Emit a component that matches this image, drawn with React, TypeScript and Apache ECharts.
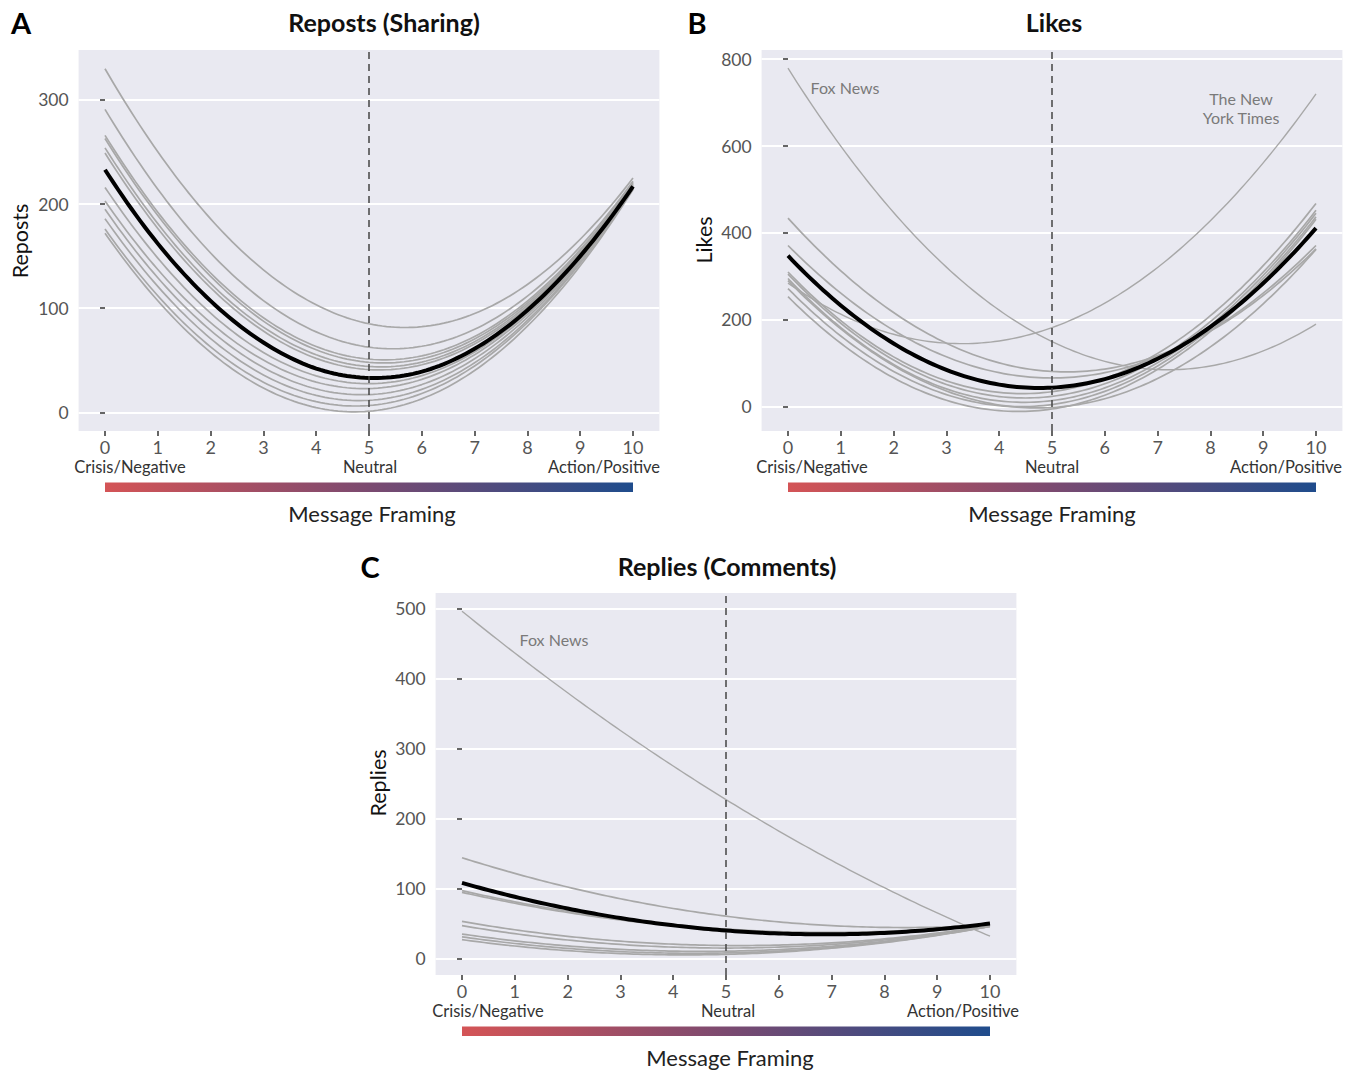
import React, { useEffect, useRef } from "react";
import * as echarts from "echarts";

// Message framing scale (x)
const FRAMING = [0, 1, 2, 3, 4, 5, 6, 7, 8, 9, 10];
const X_TICKS = [0, 1, 2, 3, 4, 5, 6, 7, 8, 9, 10];

// Panel A – Reposts
const REPOSTS_TICKS = [0, 100, 200, 300];
const repostsOverall = [233, 162, 107, 67, 42, 33, 39, 61, 98, 150, 217];
const repostsOutlets = [
  [330, 250.2, 185.8, 136.8, 103.2, 85, 82.2, 94.8, 122.8, 166.2, 225],
  [291, 214.3, 153, 107.3, 77.2, 62.5, 63.4, 79.7, 111.6, 159.1, 222],
  [266, 192.2, 133.8, 90.8, 63.2, 51, 54.2, 72.8, 106.8, 156.2, 221],
  [263, 189, 130.6, 87.6, 60, 48, 51.4, 70.4, 104.8, 154.6, 220],
  [254, 181.2, 123.8, 81.8, 55.2, 44, 48.2, 67.8, 102.8, 153.2, 219],
  [249, 176.6, 119.6, 78, 51.8, 41, 45.6, 65.6, 101, 151.8, 218],
  [216, 148.1, 95.2, 57.5, 35, 27.5, 35.2, 57.9, 95.8, 148.9, 217],
  [203, 137.1, 86.1, 50.1, 29, 22.8, 31.6, 55.3, 93.9, 147.5, 216],
  [195, 129.2, 78.6, 43, 22.4, 17, 26.6, 51.4, 91.2, 146, 216],
  [186, 120.9, 70.8, 35.9, 16.2, 11.5, 22, 47.5, 88.2, 144.1, 215],
  [176, 111.9, 62.8, 28.9, 10.2, 6.5, 18, 44.5, 86.2, 143.1, 215],
  [172, 107.1, 57.5, 23.3, 4.5, 1, 12.9, 40.1, 82.7, 140.7, 214],
];

// Panel B – Likes
const LIKES_TICKS = [0, 200, 400, 600, 800];
const likesOverall = [347.5, 233, 145.5, 84.7, 50.8, 43.8, 63.5, 110.2, 183.6, 284, 411];
const likesFoxNews = [779, 599.7, 447, 321.2, 222.1, 149.8, 104.3, 85.5, 93.6, 128.4, 190];
const likesNYTimes = [284.5, 212.8, 166.6, 146.2, 151.3, 182, 238.4, 320.4, 428, 561.2, 720];
const likesOutlets = [
  [434, 312.7, 216.6, 146, 100.8, 81, 86.6, 117.6, 174, 255.8, 363],
  [371, 261.2, 175.8, 114.8, 78.2, 66, 78.2, 114.8, 175.8, 261.2, 371],
  [310, 198, 114.6, 59.5, 32.8, 34.4, 64.4, 122.7, 209.4, 324.5, 467.9],
  [305, 192, 107.4, 51.2, 23.3, 23.8, 52.7, 110, 195.7, 309.6, 452],
  [295, 181.9, 97.2, 40.9, 13.2, 14, 43.2, 101, 187.3, 302, 445.3],
  [271.9, 162.6, 81.2, 27.8, 2.3, 4.9, 35.3, 93.8, 180.2, 294.6, 436.9],
  [253.2, 145.9, 66.4, 14.7, -9.2, -5.3, 26.4, 85.9, 173.2, 288.3, 431.2],
  [290, 179.1, 94.5, 36.1, 3.9, -2, 18.3, 64.8, 137.6, 236.7, 362],
];

// Panel C – Replies
const REPLIES_TICKS = [0, 100, 200, 300, 400, 500];
const repliesOverall = [108, 88.2, 71.4, 57.8, 47.4, 40, 35.8, 34.6, 36.6, 41.8, 50];
const repliesFoxNews = [496, 436.3, 379.5, 325.7, 274.9, 227, 182.1, 140.1, 101.1, 65.1, 32];
const repliesOutlets = [
  [144, 121.6, 102.1, 85.4, 71.5, 60.5, 52.3, 47, 44.5, 44.8, 48],
  [97, 81, 67.6, 56.6, 48, 42, 38.4, 37.4, 38.8, 42.6, 49],
  [94.5, 79, 65.8, 55.1, 46.9, 41, 37.6, 36.5, 37.9, 41.8, 48],
  [53, 41.1, 31.7, 24.8, 20.5, 18.6, 19.3, 22.4, 28.1, 36.3, 47],
  [47, 35.5, 26.5, 20.1, 16.3, 15, 16.3, 20.1, 26.5, 35.5, 47],
  [35, 25.3, 18, 13.1, 10.6, 10.5, 12.8, 17.5, 24.6, 34.1, 46],
  [31, 21.5, 14.5, 9.9, 7.7, 8, 10.7, 15.9, 23.5, 33.5, 46],
  [27, 17.9, 11.3, 7.1, 5.3, 6, 9.1, 14.7, 22.7, 33.1, 46],
];

const NEUTRAL = 5;
const FONT = "Lato, 'Noto Sans', sans-serif";
const GRAY = "#A8A8A8";
const PANEL_BG = "#E9E9F1";
const STEPS = 12;

// Custom series: draws one fitted curve through its values with a cubic Hermite spline,
// positioned by the axes' own scales (api.coord).
const curveSeries = (vals: number[], gi: number, color: string, width: number, z: number) => ({
  type: "custom",
  xAxisIndex: gi,
  yAxisIndex: gi,
  silent: true,
  clip: true,
  z,
  data: [vals],
  encode: { x: 0, y: 1 },
  renderItem: (_params: any, api: any) => {
    const n = FRAMING.length;
    const v = FRAMING.map((_, i) => api.value(i) as number);
    const m = v.map((_, i) =>
      i === 0
        ? (-3 * v[0] + 4 * v[1] - v[2]) / 2
        : i === n - 1
        ? (3 * v[n - 1] - 4 * v[n - 2] + v[n - 3]) / 2
        : (v[i + 1] - v[i - 1]) / 2
    );
    const points: number[][] = [];
    for (let i = 0; i < n - 1; i++) {
      const h = FRAMING[i + 1] - FRAMING[i];
      for (let k = 0; k < STEPS; k++) {
        const t = k / STEPS;
        const t2 = t * t;
        const t3 = t2 * t;
        const val =
          (2 * t3 - 3 * t2 + 1) * v[i] +
          (t3 - 2 * t2 + t) * m[i] +
          (-2 * t3 + 3 * t2) * v[i + 1] +
          (t3 - t2) * m[i + 1];
        points.push(api.coord([FRAMING[i] + t * h, val]));
      }
    }
    points.push(api.coord([FRAMING[n - 1], v[n - 1]]));
    return {
      type: "polyline",
      shape: { points },
      style: { stroke: color, lineWidth: width, fill: "none", lineJoin: "round", lineCap: "butt" },
    };
  },
});

export default function App() {
  const ref = useRef<HTMLDivElement>(null);

  useEffect(() => {
    document.body.style.margin = "0";
    const chart = echarts.init(ref.current!, null, { renderer: "svg" });

    const grids = [
      { left: 78.6, top: 50, width: 580.8, height: 381 },
      { left: 761.6, top: 50, width: 580.8, height: 381 },
      { left: 435.6, top: 593, width: 580.8, height: 382 },
    ].map((g) => ({ ...g, show: true, backgroundColor: PANEL_BG, borderWidth: 0 }));

    const xAxis = [0, 1, 2].map((i) => ({
      type: "value",
      gridIndex: i,
      min: -0.5,
      max: 10.5,
      axisLine: { show: false, onZero: false },
      axisTick: { show: true, length: 5, customValues: X_TICKS, lineStyle: { color: "#333", width: 1.5 } },
      axisLabel: { customValues: X_TICKS, fontSize: 18, color: "#555", fontFamily: FONT, margin: 7 },
      splitLine: { show: false },
    }));

    const yRanges = [
      { min: -18, max: 348, ticks: REPOSTS_TICKS },
      { min: -56, max: 821, ticks: LIKES_TICKS },
      { min: -23.5, max: 522, ticks: REPLIES_TICKS },
    ];
    const yAxis = yRanges.map((r, i) => ({
      type: "value",
      gridIndex: i,
      min: r.min,
      max: r.max,
      axisLine: { show: false },
      axisTick: { show: true, length: 5, customValues: r.ticks, lineStyle: { color: "#333", width: 1.5 } },
      axisLabel: { customValues: r.ticks, fontSize: 17.5, color: "#555", fontFamily: FONT, margin: 10 },
      splitLine: { show: true, lineStyle: { color: "#FFFFFF", width: 2.2 } },
    }));

    const neutralLine = (gi: number) => ({
      type: "line",
      xAxisIndex: gi,
      yAxisIndex: gi,
      data: [],
      z: 3,
      silent: true,
      markLine: {
        silent: true,
        symbol: ["none", "none"],
        label: { show: false },
        lineStyle: { color: "#444", width: 1.5, type: [7, 5] },
        data: [{ xAxis: NEUTRAL }],
      },
    });

    const series: any[] = [];
    repostsOutlets.forEach((v) => series.push(curveSeries(v, 0, GRAY, 1.7, 2)));
    series.push(neutralLine(0));
    series.push(curveSeries(repostsOverall, 0, "#000", 4, 4));

    likesOutlets.forEach((v) => series.push(curveSeries(v, 1, GRAY, 1.7, 2)));
    series.push(curveSeries(likesFoxNews, 1, GRAY, 1.4, 2));
    series.push(curveSeries(likesNYTimes, 1, GRAY, 1.4, 2));
    series.push(neutralLine(1));
    series.push(curveSeries(likesOverall, 1, "#000", 4, 4));

    repliesOutlets.forEach((v) => series.push(curveSeries(v, 2, GRAY, 1.7, 2)));
    series.push(curveSeries(repliesFoxNews, 2, GRAY, 1.4, 2));
    series.push(neutralLine(2));
    series.push(curveSeries(repliesOverall, 2, "#000", 4, 4));

    const txt = (text: string, x: number, y: number, size: number, opts: any = {}) => ({
      type: "text",
      x,
      y,
      silent: true,
      z: 10,
      rotation: opts.rotation || 0,
      style: {
        text,
        fontSize: size,
        fontFamily: FONT,
        fontWeight: opts.bold ? "bold" : "normal",
        fill: opts.color || "#222",
        align: "center",
        verticalAlign: "middle",
        lineHeight: opts.lineHeight,
      },
    });
    const bar = (x: number, y: number) => ({
      type: "rect",
      silent: true,
      shape: { x, y, width: 528, height: 9.5 },
      style: {
        fill: new echarts.graphic.LinearGradient(0, 0, 1, 0, [
          { offset: 0, color: "#D45456" },
          { offset: 0.5, color: "#7B4A70" },
          { offset: 1, color: "#1F4C8C" },
        ]),
      },
    });

    const graphic = [
      txt("A", 21, 22, 29, { bold: true, color: "#000" }),
      txt("B", 697, 22, 29, { bold: true, color: "#000" }),
      txt("C", 370, 566, 29, { bold: true, color: "#000" }),
      txt("Reposts (Sharing)", 384, 22, 25, { bold: true, color: "#111" }),
      txt("Likes", 1054, 22, 25, { bold: true, color: "#111" }),
      txt("Replies (Comments)", 727, 566, 25, { bold: true, color: "#111" }),
      txt("Reposts", 20, 241, 21.5, { rotation: Math.PI / 2, color: "#111" }),
      txt("Likes", 704, 240, 21.5, { rotation: Math.PI / 2, color: "#111" }),
      txt("Replies", 378, 783, 21.5, { rotation: Math.PI / 2, color: "#111" }),
      txt("Crisis/Negative", 130, 467, 16.5, { color: "#333" }),
      txt("Neutral", 370, 467, 16.5, { color: "#333" }),
      txt("Action/Positive", 604, 467, 16.5, { color: "#333" }),
      txt("Crisis/Negative", 812, 467, 16.5, { color: "#333" }),
      txt("Neutral", 1052, 467, 16.5, { color: "#333" }),
      txt("Action/Positive", 1286, 467, 16.5, { color: "#333" }),
      txt("Crisis/Negative", 488, 1011, 16.5, { color: "#333" }),
      txt("Neutral", 728, 1011, 16.5, { color: "#333" }),
      txt("Action/Positive", 963, 1011, 16.5, { color: "#333" }),
      bar(105, 482.5),
      bar(788, 482.5),
      bar(462, 1026.5),
      txt("Message Framing", 372, 513, 22, { color: "#222" }),
      txt("Message Framing", 1052, 513, 22, { color: "#222" }),
      txt("Message Framing", 730, 1057, 22, { color: "#222" }),
      txt("Fox News", 845, 87, 16, { color: "#7A7A7A" }),
      txt("The New\nYork Times", 1241, 108, 16, { color: "#7A7A7A", lineHeight: 19 }),
      txt("Fox News", 554, 639, 16, { color: "#7A7A7A" }),
    ];

    chart.setOption({
      animation: false,
      backgroundColor: "#FFFFFF",
      grid: grids,
      xAxis,
      yAxis,
      series,
      graphic,
    });

    return () => chart.dispose();
  }, []);

  return <div ref={ref} style={{ width: 1355, height: 1071 }} />;
}
